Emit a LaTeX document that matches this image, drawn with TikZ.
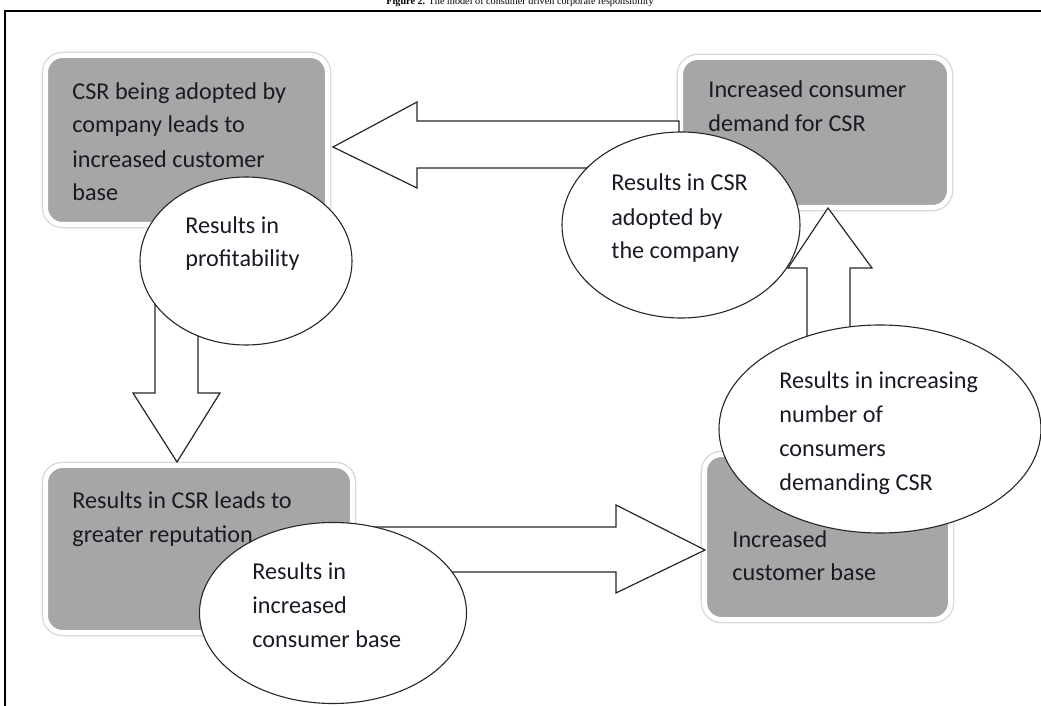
\documentclass[tikz,border=0pt]{standalone}
\usepackage{fontspec}
\setmainfont{Carlito}
\newfontfamily\titlefont{Liberation Serif}
\usetikzlibrary{shapes.geometric}
\definecolor{boxgray}{HTML}{A6A6A6}
\definecolor{inkdark}{HTML}{1A1A24}
\tikzset{
  csrbox/.style={rectangle, rounded corners=8.5pt, fill=boxgray, draw=white, line width=2.5pt, outer sep=0pt,
    preaction={draw=black!16, line width=3.8pt}},
  csroval/.style={ellipse, draw=black!85, fill=white, line width=0.55pt, inner sep=0pt},
  blockarrow/.style={draw=black!85, fill=white, line width=0.6pt, line join=miter},
  csrtext/.style={anchor=base west, align=left, inner sep=0pt, text=inkdark, font=\fontsize{12.1}{17}\selectfont}
}
\begin{document}
\begin{tikzpicture}[x=0.5pt, y=-0.5pt]
\useasboundingbox (0,0) rectangle (1041,706);

\node[font=\titlefont\fontsize{5.1}{6}\selectfont, anchor=base] (title) at (520,5) {\textbf{Figure 2.} The model of consumer driven corporate responsibility};
\draw[line width=1pt] (5,706) -- (5,11) -- (1041,11);

\node[csrbox, minimum width=141pt, minimum height=84.5pt] (adopt) at (186.5,140) {};
\node[csrbox, minimum width=134.5pt, minimum height=75pt] (demand) at (815,132.5) {};
\node[csrbox, minimum width=153.5pt, minimum height=83.5pt] (reput) at (199,549) {};
\node[csrbox, minimum width=123pt, minimum height=82.5pt] (base) at (827.5,537) {};

\draw[blockarrow] (adopt.east) ++(5.5,7) -- ++(84,-45) -- ++(0,19) -- ++(262,0) -- ++(0,47) -- ++(-262,0) -- ++(0,20) -- cycle;
\draw[blockarrow] (adopt.south) ++(-31.5,0) -- ++(0,168.5) -- ++(-22,0) -- ++(44,69) -- ++(43,-69) -- ++(-22,0) -- ++(0,-168.5) -- cycle;
\draw[blockarrow] (demand.south) ++(13,0.5) -- ++(44,60) -- ++(-22,0) -- ++(0,80) -- ++(-43,0) -- ++(0,-80) -- ++(-19,0) -- cycle;
\draw[blockarrow] (reput.east) ++(0,-22) -- ++(263.5,0) -- ++(0,-22) -- ++(89,45) -- ++(-89,43) -- ++(0,-21) -- ++(-263.5,0) -- cycle;

\node[csrtext] (adoptT) at (72,201) {CSR being adopted by\\company leads to\\increased customer\\base};
\node[csrtext] (demandT) at (708,132) {Increased consumer\\demand for CSR};
\node[csrtext] (reputT) at (72,542) {Results in CSR leads to\\greater reputation};
\node[csrtext] (baseT) at (732,581) {Increased\\customer base};

\node[csroval, minimum width=106pt, minimum height=84pt] (profit) at (246,261) {};
\node[csroval, minimum width=119pt, minimum height=93pt] (adopted) at (681,225) {};
\node[csroval, minimum width=161pt, minimum height=104pt] (number) at (880,429) {};
\node[csroval, minimum width=133.5pt, minimum height=90.5pt] (consumer) at (333,613) {};

\node[csrtext] (profitT) at (185,267) {Results in\\profitability};
\node[csrtext] (adoptedT) at (611,259) {Results in CSR\\adopted by\\the company};
\node[csrtext] (numberT) at (779,490) {Results in increasing\\number of\\consumers\\demanding CSR};
\node[csrtext] (consumerT) at (252,647) {Results in\\increased\\consumer base};
\end{tikzpicture}
\end{document}
